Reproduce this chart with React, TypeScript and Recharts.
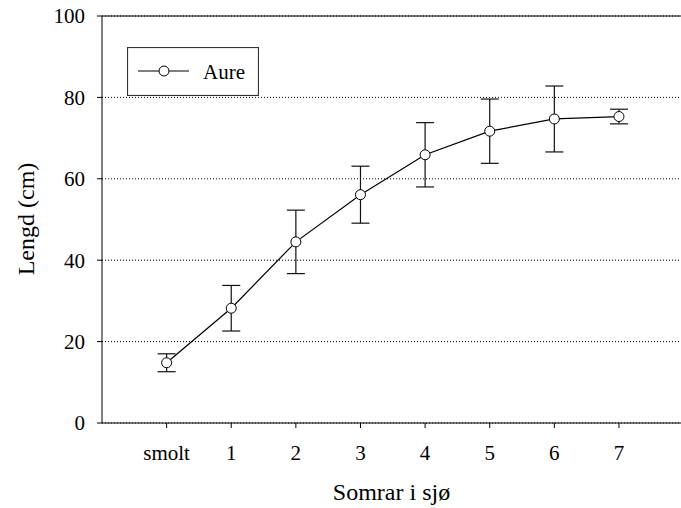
import React from 'react';
import { LineChart, Line, XAxis, YAxis, CartesianGrid, ErrorBar, ReferenceLine, Label } from 'recharts';

const categories = ['smolt', '1', '2', '3', '4', '5', '6', '7'];
const lengths = [14.8, 28.2, 44.5, 56.1, 65.9, 71.7, 74.7, 75.3];
const errors = [2.2, 5.6, 7.8, 7.0, 7.9, 7.9, 8.1, 1.8];
const yTicks = [0, 20, 40, 60, 80, 100];
const seriesName = 'Aure';

const data = categories.map((c, i) => ({ x: i, label: c, v: lengths[i], e: errors[i] }));
const xTicks = categories.map((_, i) => i);

const FONT = '"Liberation Serif", "Times New Roman", serif';

const LegendBox = () => (
  <svg width={132} height={49} style={{ display: 'block' }}>
    <rect x={0.5} y={0.5} width={131} height={48} fill="white" stroke="#333" strokeWidth={1.2} />
    <line x1={11} y1={24} x2={62} y2={24} stroke="#000" strokeWidth={1.2} />
    <circle cx={37} cy={24} r={5} fill="white" stroke="#000" strokeWidth={1} />
    <text x={76} y={32} fontFamily={FONT} fontSize={21} fill="#000">{seriesName}</text>
  </svg>
);

const YLabel = () => (
  <text x={26} y={219} transform="rotate(-90, 26, 219)" textAnchor="middle" dominantBaseline="central"
    fontFamily={FONT} fontSize={24} fill="#000">Lengd (cm)</text>
);

export default function App() {
  return (
    <div style={{ position: 'absolute', left: 0, top: 0, width: 681, height: 508 }}>
      <LineChart width={681} height={508} data={data} margin={{ top: 16, right: 0, left: 0, bottom: 0 }}
        style={{ fontFamily: FONT }}>
        <CartesianGrid vertical={false} stroke="#000" strokeDasharray="1 2" />
        <XAxis dataKey="x" type="number" domain={[-1, 7.96]} allowDataOverflow ticks={xTicks}
          tickFormatter={(v: number) => categories[v] ?? ''} height={85} stroke="#000" tickSize={5}
          tickMargin={17} tick={{ fill: '#000', fontSize: 21, fontFamily: FONT }} interval={0}>
          <Label value="Somrar i sjø" position="insideBottom" offset={8} fill="#000" fontSize={24} fontFamily={FONT} />
        </XAxis>
        <YAxis type="number" domain={[0, 100]} ticks={yTicks} width={102} stroke="#000" tickSize={5}
          tickMargin={12} tick={{ fill: '#000', fontSize: 21, fontFamily: FONT }} interval={0}
          label={<YLabel />} />
        <ReferenceLine y={100} stroke="#000" strokeWidth={1} ifOverflow="visible" />
        <Line type="linear" dataKey="v" name={seriesName} stroke="#000" strokeWidth={1.2} isAnimationActive={false}
          dot={{ r: 5, fill: '#fff', stroke: '#000', strokeWidth: 1 }} activeDot={false}>
          <ErrorBar dataKey="e" width={9} stroke="#111" strokeWidth={1.2} direction="y" isAnimationActive={false} />
        </Line>
      </LineChart>
      <div style={{ position: 'absolute', left: 127, top: 47 }}>
        <LegendBox />
      </div>
    </div>
  );
}
